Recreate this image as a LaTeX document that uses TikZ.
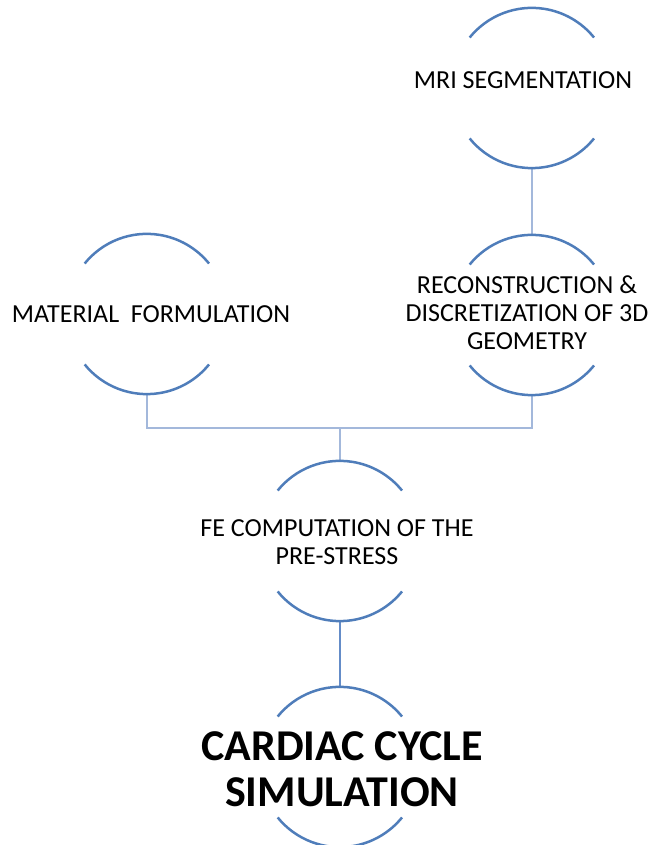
\documentclass[tikz,border=0pt]{standalone}
\usepackage{fontspec}
\setmainfont{Carlito}
\definecolor{arcblue}{RGB}{79,125,186}
\definecolor{lightconn}{RGB}{163,184,219}
\definecolor{midconn}{RGB}{100,140,200}
\tikzset{
  ring/.style={circle, minimum size=160pt, inner sep=0pt, draw=none},
  lbl/.style={align=center, font=\fontsize{26}{28}\selectfont, inner sep=0pt},
  biglbl/.style={align=center, font=\fontsize{44}{46}\selectfont\bfseries, inner sep=0pt},
  arcline/.style={draw=arcblue, line width=2.5pt},
  conn/.style={draw=lightconn, line width=2.5pt},
  connmid/.style={draw=midconn, line width=2.5pt}
}
\newcommand{\ringarcs}[1]{%
  \draw[arcline] (#1.141) arc[start angle=141, end angle=39, radius=80pt];
  \draw[arcline] (#1.219) arc[start angle=219, end angle=321, radius=80pt];
}
\begin{document}
\begin{tikzpicture}[x=1pt,y=1pt]
\useasboundingbox (0,0) rectangle (649,845);
\node[ring] (mri) at (532,757) {};
\node[ring] (rec) at (532,530) {};
\node[ring] (mat) at (147,531) {};
\node[ring] (fe) at (340,304) {};
\node[ring] (car) at (340,78) {};
\coordinate (j) at (340,417);
\draw[conn] (mri.south) -- (rec.north);
\draw[conn] (mat.south) |- (j);
\draw[conn] (rec.south) |- (j);
\draw[conn] (j) -- (fe.north);
\draw[connmid] (fe.south) -- (car.north);
\ringarcs{mri}
\ringarcs{rec}
\ringarcs{mat}
\ringarcs{fe}
\ringarcs{car}
\node[lbl] (tmri) at (523,765) {MRI SEGMENTATION};
\node[lbl] (trec) at (527,532) {RECONSTRUCTION \&\\DISCRETIZATION OF 3D\\GEOMETRY};
\node[lbl] (tmat) at (151,531) {MATERIAL\ \ FORMULATION};
\node[lbl] (tfe) at (337,303) {FE COMPUTATION OF THE\\PRE-STRESS};
\node[biglbl] (tcar) at (342,76) {CARDIAC CYCLE\\SIMULATION};
\end{tikzpicture}
\end{document}
